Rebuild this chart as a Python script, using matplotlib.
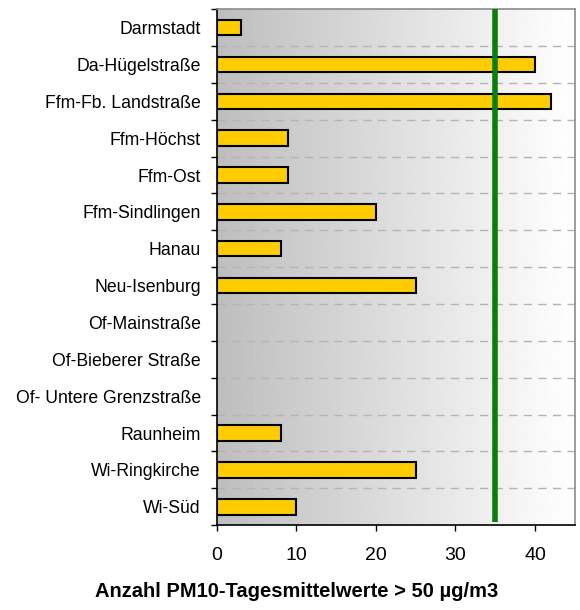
import numpy as np
import matplotlib.pyplot as plt
from matplotlib.ticker import FixedLocator

stations = ['Darmstadt', 'Da-Hügelstraße', 'Ffm-Fb. Landstraße', 'Ffm-Höchst',
            'Ffm-Ost', 'Ffm-Sindlingen', 'Hanau', 'Neu-Isenburg',
            'Of-Mainstraße', 'Of-Bieberer Straße', 'Of- Untere Grenzstraße',
            'Raunheim', 'Wi-Ringkirche', 'Wi-Süd']
counts = [3, 40, 42, 9, 9, 20, 8, 25, 0, 0, 0, 8, 25, 10]
limit = 35
xticks = [0, 10, 20, 30, 40]

plt.rcParams['font.family'] = ['Liberation Sans', 'DejaVu Sans']

fig = plt.figure(figsize=(5.8, 6.1), dpi=100)
ax = fig.add_axes([0.374, 0.139, 0.617, 0.846])

n = len(stations)
ypos = np.arange(n)

# gradient background, grey on the left to white on the right
grad = np.linspace(0, 1, 256).reshape(1, -1)
ax.imshow(grad, cmap='gray', vmin=-2.9, vmax=1.0, aspect='auto',
          extent=[0, 45, n - 0.5, -0.5], zorder=0)
ax.set_xlim(0, 45)
ax.set_ylim(n - 0.5, -0.5)

# dashed separators between categories
for b in np.arange(0.5, n - 0.5, 1):
    ax.axhline(b, color='#b4b4b4', lw=1, dashes=(6, 4.5), zorder=1)

nz = [i for i in ypos if counts[i] > 0]
ax.barh(nz, [counts[i] for i in nz], height=0.42, color='#ffcc00',
        edgecolor='black', linewidth=1.5, zorder=2)

ax.plot([limit, limit], [n - 0.58, -0.5], color='#0a7d0a', lw=4,
        solid_capstyle='butt', zorder=3, clip_on=False)

ax.set_yticks(ypos)
ax.set_yticklabels(stations, fontsize=12.7)
ax.yaxis.set_minor_locator(FixedLocator(np.arange(-0.5, n, 1)))
ax.tick_params(axis='y', which='major', length=0, pad=11.5)
ax.tick_params(axis='y', which='minor', length=4, width=1, direction='out')

ax.set_xticks(xticks)
ax.tick_params(axis='x', which='major', length=4, width=1, direction='out',
               labelsize=14, pad=12)
fig.text(0.512, 0.022, 'Anzahl PM10-Tagesmittelwerte > 50 µg/m3',
         fontsize=14.5, fontweight='bold', ha='center', va='baseline')

for side in ['top', 'right']:
    ax.spines[side].set_color('#8c8c8c')
    ax.spines[side].set_linewidth(1.2)
for side in ['left', 'bottom']:
    ax.spines[side].set_color('black')
    ax.spines[side].set_linewidth(1.2)

plt.savefig('out.png', dpi=100)
